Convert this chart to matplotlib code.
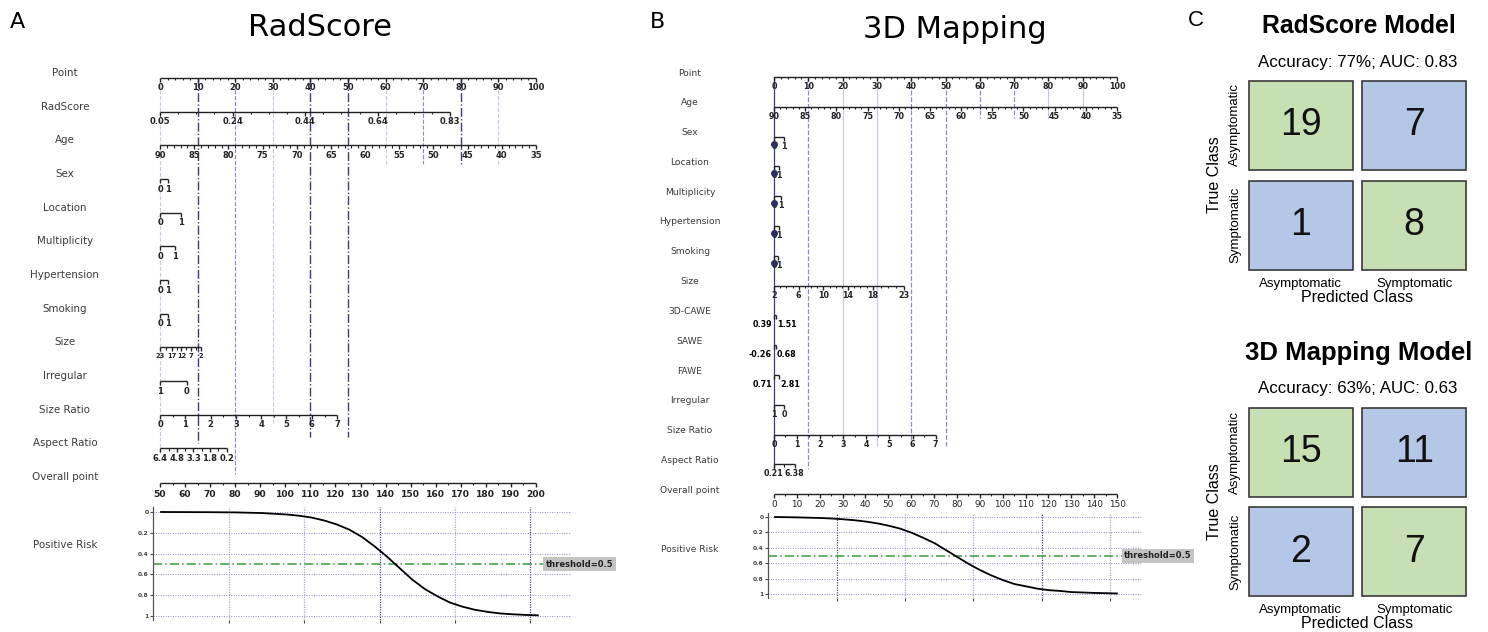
import matplotlib
matplotlib.use("Agg")
import matplotlib.pyplot as plt
from matplotlib.patches import Rectangle

W, H = 1488, 632

# ---------------- panel A : RadScore nomogram ----------------
a_rows = ["Point", "RadScore", "Age", "Sex", "Location", "Multiplicity", "Hypertension",
          "Smoking", "Size", "Irregular", "Size Ratio", "Aspect Ratio", "Overall point"]
a_point_lbl = ["0", "10", "20", "30", "40", "50", "60", "70", "80", "90", "100"]
a_point_pts = [0, 10, 20, 30, 40, 50, 60, 70, 80, 90, 100]
a_rad_lbl = ["0.05", "0.24", "0.44", "0.64", "0.83"]
a_rad_pts = [0, 19.3, 38.6, 57.9, 77.2]
a_age_lbl = ["90", "85", "80", "75", "70", "65", "60", "55", "50", "45", "40", "35"]
a_age_pts = [0, 9.1, 18.2, 27.3, 36.4, 45.5, 54.5, 63.6, 72.7, 81.8, 90.9, 100]
a_sex_lbl, a_sex_pts = ["0", "1"], [0, 2.0]
a_loc_lbl, a_loc_pts = ["0", "1"], [0, 5.7]
a_mult_lbl, a_mult_pts = ["0", "1"], [0, 4.0]
a_hyp_lbl, a_hyp_pts = ["0", "1"], [0, 2.0]
a_smk_lbl, a_smk_pts = ["0", "1"], [0, 2.0]
a_size_lbl = ["23", "17", "12", "7", "2"]
a_size_pts = [0, 3.1, 5.7, 8.3, 10.9]
a_irr_lbl, a_irr_pts = ["1", "0"], [0, 7.1]
a_sr_lbl = ["0", "1", "2", "3", "4", "5", "6", "7"]
a_sr_pts = [0, 6.7, 13.5, 20.2, 26.9, 33.6, 40.4, 47.1]
a_ar_lbl = ["6.4", "4.8", "3.3", "1.8", "0.2"]
a_ar_pts = [0, 4.6, 8.9, 13.2, 17.8]
a_tot_lbl = ["50", "60", "70", "80", "90", "100", "110", "120", "130", "140", "150",
             "160", "170", "180", "190", "200"]
a_tot_pts = [0, 6.67, 13.33, 20, 26.67, 33.33, 40, 46.67, 53.33, 60, 66.67,
             73.33, 80, 86.67, 93.33, 100]
# guide lines: point value, lower end (row index), strength
a_guides = [(0, 11.3, 0), (10, 11.0, 2), (20, 11.9, 1), (30, 10.4, 0), (40, 10.8, 2),
            (50, 10.8, 2), (60, 2.7, 0), (70, 2.7, 1), (80, 2.7, 2), (90, 2.7, 0)]
# risk curve
a_risk_x = [50, 60, 70, 80, 90, 100, 105, 110, 115, 120, 125, 130, 135, 140, 145, 150,
            155, 160, 165, 170, 175, 180, 185, 190, 195, 200]
a_risk_p = [0.0, 0.001, 0.002, 0.004, 0.01, 0.024, 0.036, 0.054, 0.082, 0.12, 0.17, 0.24,
            0.33, 0.43, 0.54, 0.65, 0.74, 0.81, 0.87, 0.91, 0.94, 0.96, 0.975, 0.983,
            0.989, 0.993]
a_risk_grid = [77, 107, 137, 167, 197]
a_risk_dark = [2, 4]

# ---------------- panel B : 3D Mapping nomogram ----------------
b_rows = ["Point", "Age", "Sex", "Location", "Multiplicity", "Hypertension", "Smoking",
          "Size", "3D-CAWE", "SAWE", "FAWE", "Irregular", "Size Ratio", "Aspect Ratio",
          "Overall point"]
b_size_lbl = ["2", "6", "10", "14", "18", "23"]
b_size_pts = [0, 7.2, 14.4, 21.6, 28.8, 37.8]
b_sex_pts = [0, 2.9]
b_loc_pts = [0, 1.5]
b_mult_pts = [0, 2.0]
b_hyp_pts = [0, 1.5]
b_smk_pts = [0, 1.3]
b_cawe_lbl, b_cawe_pts = ["0.39", "1.51"], [0, 0.5]
b_sawe_lbl, b_sawe_pts = ["-0.26", "0.68"], [0, 0.5]
b_fawe_lbl, b_fawe_pts = ["0.71", "2.81"], [0, 1.5]
b_irr_lbl, b_irr_pts = ["1", "0"], [0, 2.9]
b_ar_lbl, b_ar_pts = ["0.21", "6.38"], [0, 6.0]
b_tot_lbl = ["0", "10", "20", "30", "40", "50", "60", "70", "80", "90", "100", "110",
             "120", "130", "140", "150"]
b_tot_pts = [0, 6.67, 13.33, 20, 26.67, 33.33, 40, 46.67, 53.33, 60, 66.67, 73.33,
             80, 86.67, 93.33, 100]
b_guides = [(0, 13.3, 2), (10, 13.3, 1), (20, 12.5, 0), (30, 12.5, 0), (40, 12.5, 1),
            (50, 12.5, 1), (60, 1.5, 1), (70, 1.5, 1), (80, 1.5, 0), (90, 1.5, 0)]
b_risk_x = [0, 10, 20, 25, 30, 35, 40, 45, 50, 55, 60, 65, 70, 75, 80, 85, 90, 95,
            100, 105, 110, 115, 120, 125, 130, 140, 150]
b_risk_p = [0.0, 0.005, 0.013, 0.02, 0.03, 0.042, 0.06, 0.083, 0.114, 0.152, 0.205,
            0.27, 0.34, 0.43, 0.52, 0.61, 0.69, 0.76, 0.82, 0.87, 0.9, 0.93, 0.95,
            0.96, 0.975, 0.986, 0.993]
b_risk_grid = [27, 57, 87, 117, 147]
b_risk_dark = [0, 3]

# ---------------- panel C : confusion matrices ----------------
classes = ["Asymptomatic", "Symptomatic"]
cm_rad = [[19, 7], [1, 8]]
cm_3d = [[15, 11], [2, 7]]
acc_rad, auc_rad = 77, 0.83
acc_3d, auc_3d = 63, 0.63

risk_ticks = [0, 0.2, 0.4, 0.6, 0.8, 1]
risk_tick_lbl = ["0", "0.2", "0.4", "0.6", "0.8", "1"]

INK = "#222222"
LABEL = "#3a3a3a"
GUIDE = ["#c9c9e4", "#8a8ac4", "#3d3d7a"]


def px_axes(fig, x0, y0, x1, y1):
    return fig.add_axes([x0 / W, 1 - y1 / H, (x1 - x0) / W, (y1 - y0) / H])


def draw_scale(ax, y, lbls, pts, nsub=1, fs=6.0, bold=True, tick=4.0, gap=1.5, spread=False):
    ax.plot([pts[0], pts[-1]], [y, y], color=INK, lw=1.0, solid_capstyle="butt")
    ax.vlines(pts, y, y + tick, color=INK, lw=1.0)
    if nsub > 1:
        mins = [a + (b - a) * k / nsub for a, b in zip(pts[:-1], pts[1:]) for k in range(1, nsub)]
        ax.vlines(mins, y, y + tick * 0.55, color=INK, lw=0.8)
    fw = "bold" if bold else "normal"
    if spread:
        ax.text(pts[0] - 0.6, y + tick + gap, lbls[0], ha="right", va="top", fontsize=fs, fontweight=fw)
        ax.text(pts[-1] + 0.4, y + tick + gap, lbls[-1], ha="left", va="top", fontsize=fs, fontweight=fw)
        return
    for p, l in zip(pts, lbls):
        ax.text(p, y + tick + gap, l, ha="center", va="top", fontsize=fs, fontweight=fw, color=INK)


def risk_panel(ax, xs, ps, grid, dark, xlim, ylim, lab_x):
    ax.set_xlim(*xlim)
    ax.set_ylim(*ylim)
    for k, g in enumerate(grid):
        ax.axvline(g, color="#4a4a80" if k in dark else "#a8a8d0", lw=0.9,
                   ls=(0, (1, 1)), zorder=1)
    for t in risk_ticks:
        ax.axhline(t, color="#8c8cc8", lw=0.7, ls=(0, (1, 1.5)), zorder=1)
    ax.axhline(0.5, color="#3a9a3a", lw=1.1, ls=(0, (6, 2, 1, 2)), zorder=2)
    ax.plot(xs, ps, color="k", lw=1.3, zorder=3)
    ax.text(lab_x, 0.5, "threshold=0.5", transform=ax.get_yaxis_transform(), ha="left",
            va="center", fontsize=6, fontweight="bold", color="#222222", clip_on=False,
            bbox=dict(boxstyle="square,pad=0.3", fc="#c4c4c4", ec="none"), zorder=4)
    ax.set_yticks(risk_ticks, risk_tick_lbl, fontsize=4.3, fontweight="bold")
    ax.set_xticks(grid, [])
    ax.tick_params(length=2, width=0.8, pad=1, colors="#444444")
    for s in ("top", "right", "bottom"):
        ax.spines[s].set_visible(False)
    ax.spines["left"].set_linewidth(0.9)
    ax.spines["left"].set_color("#555555")
    ax.patch.set_alpha(0)


def conf_matrix(ax, cm, title, sub, ty, tfs):
    green, blue = "#c6e0b4", "#b4c7e7"
    gx, gy = 0.04, 0.055
    for i in range(2):
        for j in range(2):
            ax.add_patch(Rectangle((j + gx, i + gy), 1 - 2 * gx, 1 - 2 * gy,
                                   fc=green if i == j else blue, ec="#3a3a3a", lw=1.2))
            ax.text(j + 0.5, i + 0.5, str(cm[i][j]), ha="center", va="center",
                    fontsize=27, family="Liberation Sans", color="#111111")
    ax.set_xlim(0, 2)
    ax.set_ylim(2, 0)
    ax.set_xticks([0.5, 1.5], classes, fontsize=9.5, family="Liberation Sans")
    ax.set_yticks([0.5, 1.5], classes, fontsize=9.5, family="Liberation Sans",
                  rotation=90, va="center")
    ax.tick_params(length=0, pad=2)
    ax.set_xlabel("Predicted Class", fontsize=11.5, family="Liberation Sans", labelpad=0)
    ax.set_ylabel("True Class", fontsize=11.5, family="Liberation Sans", labelpad=5)
    for s in ax.spines.values():
        s.set_visible(False)
    fig.text(1359 / W, 1 - ty / H, title, ha="center", va="center", fontsize=tfs,
             fontweight="bold", family="Liberation Sans")
    fig.text(1358 / W, 1 - (ty + 36) / H, sub, ha="center", va="center", fontsize=12.2,
             family="Liberation Sans")


fig = plt.figure(figsize=(W / 100, H / 100), dpi=100)

# ---- nomogram A
axA = px_axes(fig, 0, 0, 640, 632)
axA.set_xlim((0 - 160) / 3.76, (640 - 160) / 3.76)
axA.set_ylim(632, 0)
axA.axis("off")
a_scales = [(a_point_lbl, a_point_pts, 5), (a_rad_lbl, a_rad_pts, 4), (a_age_lbl, a_age_pts, 5),
            (a_sex_lbl, a_sex_pts, 1), (a_loc_lbl, a_loc_pts, 1), (a_mult_lbl, a_mult_pts, 1),
            (a_hyp_lbl, a_hyp_pts, 1), (a_smk_lbl, a_smk_pts, 1), (a_size_lbl, a_size_pts, 2),
            (a_irr_lbl, a_irr_pts, 1), (a_sr_lbl, a_sr_pts, 2), (a_ar_lbl, a_ar_pts, 2),
            (a_tot_lbl, a_tot_pts, 2)]
a_y = [73 + 33.67 * i for i in range(len(a_rows))]
for p, end, s in a_guides:
    axA.plot([p, p], [78, a_y[0] + 33.67 * end], color=GUIDE[s], lw=1.0 if s == 2 else 0.8,
             ls="-." if s == 2 else "--", zorder=0)
for i, (name, (lb, pt, ns)) in enumerate(zip(a_rows, a_scales)):
    axA.text(-25.3, a_y[i], name, ha="center", va="center", fontsize=7.4, color=LABEL)
    last = i == len(a_rows) - 1
    fs = 4.8 if name == "Size" else (6.6 if last else 6.0)
    draw_scale(axA, a_y[i] + (6 if last else 5), lb, pt, ns, fs=fs, gap=2.5 if last else 1.5)
axA.text(-25.3, 545, "Positive Risk", ha="center", va="center", fontsize=7.4, color=LABEL)
fig.text(17 / W, 1 - 22 / H, "A", ha="center", va="center", fontsize=16)
fig.text(320 / W, 1 - 28 / H, "RadScore", ha="center", va="center", fontsize=22)

rA = px_axes(fig, 153, 507, 571, 620)
risk_panel(rA, a_risk_x, a_risk_p, a_risk_grid, a_risk_dark, (46.8, 213.2), (1.038, -0.048), 0.94)

# ---- nomogram B
axB = px_axes(fig, 640, 0, 1180, 632)
axB.set_xlim((640 - 774) / 3.43, (1180 - 774) / 3.43)
axB.set_ylim(632, 0)
axB.axis("off")
bin_lbl = ["0", "1"]
b_scales = [(a_point_lbl, a_point_pts, 5, False), (a_age_lbl, a_age_pts, 5, False),
            (bin_lbl, b_sex_pts, 1, False), (bin_lbl, b_loc_pts, 1, False),
            (bin_lbl, b_mult_pts, 1, False), (bin_lbl, b_hyp_pts, 1, False),
            (bin_lbl, b_smk_pts, 1, False), (b_size_lbl, b_size_pts, 4, False),
            (b_cawe_lbl, b_cawe_pts, 1, True), (b_sawe_lbl, b_sawe_pts, 1, True),
            (b_fawe_lbl, b_fawe_pts, 1, True), (b_irr_lbl, b_irr_pts, 1, False),
            (a_sr_lbl, a_sr_pts, 2, False), (b_ar_lbl, b_ar_pts, 2, False),
            (b_tot_lbl, b_tot_pts, 2, False)]
b_y = [73 + 29.8 * i for i in range(len(b_rows))]
for p, end, s in b_guides:
    axB.plot([p, p], [77, b_y[0] + 29.8 * end], color=GUIDE[s], lw=0.9,
             ls="-" if s != 1 else "--", zorder=0)
for i, (name, (lb, pt, ns, sp)) in enumerate(zip(b_rows, b_scales)):
    axB.text(-24.5, b_y[i], name, ha="center", va="center", fontsize=6.6, color=LABEL)
    last = i == len(b_rows) - 1
    draw_scale(axB, b_y[i] + 4, lb, pt, ns, fs=6.4 if last else 5.8, bold=not last,
               tick=4.0, gap=1.0 if not last else 2.0, spread=sp)
    if 2 <= i <= 6:
        axB.plot(0, b_y[i] + 11, "o", color="#2e2e66", ms=4, zorder=5)
axB.text(-24.5, 550, "Positive Risk", ha="center", va="center", fontsize=6.6, color=LABEL)
fig.text(657 / W, 1 - 22 / H, "B", ha="center", va="center", fontsize=16)
fig.text(955 / W, 1 - 30 / H, "3D Mapping", ha="center", va="center", fontsize=22)

rB = px_axes(fig, 768, 513, 1142, 598)
risk_panel(rB, b_risk_x, b_risk_p, b_risk_grid, b_risk_dark, (-3.07, 161.0), (1.052, -0.052), 0.952)

# ---- confusion matrices C
fig.text(1196 / W, 1 - 20 / H, "C", ha="center", va="center", fontsize=16,
         family="Liberation Sans")
c1 = px_axes(fig, 1244, 75, 1471, 275)
conf_matrix(c1, cm_rad, "RadScore Model", f"Accuracy: {acc_rad}%; AUC: {auc_rad}", 26, 17.8)
c2 = px_axes(fig, 1244, 403, 1471, 601)
conf_matrix(c2, cm_3d, "3D Mapping Model", f"Accuracy: {acc_3d}%; AUC: {auc_3d}", 353, 18.5)

fig.savefig("out.png", dpi=100)
